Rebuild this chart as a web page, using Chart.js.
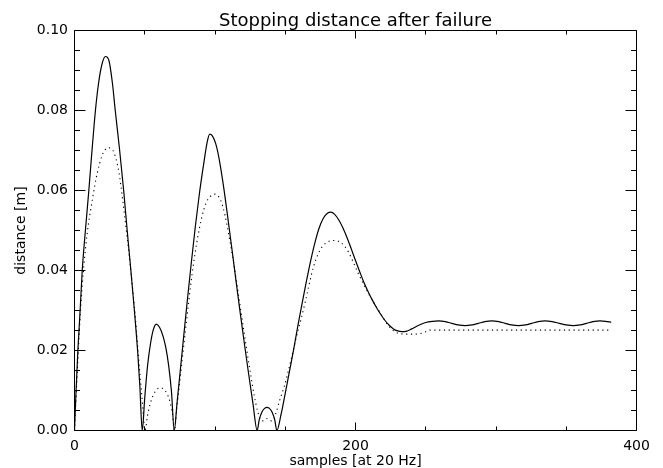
<!DOCTYPE html>
<html>
<head>
<meta charset="utf-8">
<script src="https://cdn.jsdelivr.net/npm/chart.js@4"></script>
<style>
  html, body { margin: 0; padding: 0; background: #fff; }
  #wrap { width: 663px; height: 468px; }
</style>
</head>
<body>
<div id="wrap"><canvas id="c" width="663" height="468"></canvas></div>
<script>
// ---- data ----
const solidX = [0, 1, 2.4, 4, 5.5, 8, 10.2, 12, 14.9, 17, 19.5, 22, 24.5, 27, 29, 32, 35, 37.5, 40, 42.5, 45, 46.5, 48.2,
  50, 52, 54, 56, 58.3, 60.5, 63, 65, 67, 69, 71,
  73, 75, 77, 80, 83, 86, 89, 92, 94.5, 96.2, 98, 100.5, 103, 106, 109, 112, 115, 118, 121, 124, 127, 130,
  131.5, 133.5, 135.5, 137, 138.5, 140.5, 142.5, 144,
  147, 150, 153, 156, 159, 162, 165, 168, 171, 174, 177, 180, 182.5, 185, 188, 191, 194, 197, 200, 203, 206, 209, 212, 215, 218, 221, 224, 227, 230, 233, 236, 240, 245, 250, 255,
  259, 264, 268.5, 273, 278, 283, 287.5, 292, 297, 302, 306.5, 311, 316, 321, 325.5, 330, 335, 340, 345, 350, 355, 360, 364.5, 369, 374, 378, 382];
const solidY = [0, 0.009, 0.020, 0.030, 0.040, 0.051, 0.060, 0.068, 0.080, 0.0865, 0.0915, 0.0935, 0.0925, 0.0868, 0.080, 0.0705, 0.060, 0.050, 0.0405, 0.0305, 0.0195, 0.0112, 0,
  0.0082, 0.0162, 0.0215, 0.0251, 0.0266, 0.0258, 0.0236, 0.0207, 0.0163, 0.0098, 0,
  0.007, 0.014, 0.021, 0.0315, 0.0415, 0.051, 0.0595, 0.0668, 0.0722, 0.0741, 0.0737, 0.0717, 0.0678, 0.0612, 0.0535, 0.0455, 0.0373, 0.0293, 0.0215, 0.0140, 0.0068, 0,
  0.0027, 0.0047, 0.0056, 0.0058, 0.0056, 0.0047, 0.0027, 0,
  0.004, 0.0093, 0.0148, 0.0203, 0.0262, 0.0318, 0.0372, 0.0423, 0.0468, 0.0505, 0.0530, 0.0543, 0.0546, 0.0541, 0.0527, 0.0507, 0.0482, 0.0454, 0.0425, 0.0397, 0.0370, 0.0347, 0.0326, 0.0307, 0.0290, 0.0275, 0.0263, 0.0254, 0.0249, 0.0247, 0.0248, 0.0254, 0.0263, 0.0270, 0.0273,
  0.0274, 0.0272, 0.0268, 0.0264, 0.0262, 0.0264, 0.0268, 0.0272, 0.0274, 0.0272, 0.0268, 0.0264, 0.0262, 0.0264, 0.0268, 0.0272, 0.0274, 0.0272, 0.0268, 0.0264, 0.0262, 0.0264, 0.0268, 0.0272, 0.0274, 0.0273, 0.0271];

const dottedX = [0, 1, 2.4, 4.3, 6.6, 9, 12.6, 16.1, 19.7, 22, 24.4, 26.5, 28, 31.5, 34, 36.5, 39, 41.5, 43.5, 45.5, 48, 50.2,
  52, 54, 56, 58.5, 61, 63.5, 66, 68, 69.8, 71,
  73, 75, 77, 80, 83, 86, 89, 92, 95, 98, 100, 102, 104, 107, 110, 113, 116, 119, 122, 125, 128, 130.5, 133, 135, 137, 139, 141, 143.5, 146,
  149, 152, 155, 158, 161, 164, 167, 170, 173, 176, 179, 182, 186, 189, 192, 195, 198, 201, 204, 207, 210, 213, 216, 219, 222, 225, 228, 232, 237, 242, 247, 250, 253, 382];
const dottedY = [0, 0.0075, 0.0176, 0.0301, 0.0409, 0.0492, 0.0575, 0.0642, 0.0688, 0.0703, 0.0707, 0.0703, 0.0696, 0.0648, 0.0585, 0.0512, 0.0435, 0.035, 0.0275, 0.0185, 0.0085, 0,
  0.0038, 0.0068, 0.0088, 0.0102, 0.0107, 0.0103, 0.0091, 0.0071, 0.0040, 0,
  0.0062, 0.0125, 0.0188, 0.0282, 0.0372, 0.0447, 0.0507, 0.0552, 0.0578, 0.0589, 0.0591, 0.0587, 0.0576, 0.0540, 0.0486, 0.0425, 0.0356, 0.0285, 0.0215, 0.0148, 0.0086, 0.0046, 0.0024, 0.0025, 0.0030, 0.0025, 0.0024, 0.0045, 0.0075,
  0.0107, 0.0146, 0.019, 0.0235, 0.0275, 0.0318, 0.0365, 0.0408, 0.0438, 0.0458, 0.0469, 0.0474, 0.0475, 0.0471, 0.0462, 0.0446, 0.0424, 0.0400, 0.0378, 0.0357, 0.0338, 0.0320, 0.0303, 0.0286, 0.0269, 0.0256, 0.0247, 0.0242, 0.0241, 0.0241, 0.0243, 0.0247, 0.0251, 0.0251];

const xMajorTicks = [0, 200, 400];
const xMinorTicks = [50, 100, 150, 250, 300, 350];
const yMajorTicks = [0, 0.02, 0.04, 0.06, 0.08, 0.10];
const yMinorTicks = [0.005, 0.01, 0.015, 0.025, 0.03, 0.035, 0.045, 0.05, 0.055, 0.065, 0.07, 0.075, 0.085, 0.09, 0.095];

const titleText = 'Stopping distance after failure';
const xTitle = 'samples [at 20 Hz]';
const yTitle = 'distance [m]';

// ---- chart ----
Chart.defaults.font.family = "'DejaVu Sans', sans-serif";
Chart.defaults.color = '#000';

const toPoints = (xs, ys) => xs.map((v, i) => ({ x: v, y: ys[i] }));

const frameTicks = {
  id: 'frameTicks',
  afterDatasetsDraw(chart) {
    const { ctx, chartArea: a, scales: { x, y } } = chart;
    ctx.save();
    ctx.strokeStyle = '#000';
    ctx.lineWidth = 1;
    ctx.beginPath();
    ctx.rect(a.left, a.top, a.right - a.left, a.bottom - a.top);
    const seg = (x1, y1, x2, y2) => { ctx.moveTo(x1, y1); ctx.lineTo(x2, y2); };
    const xt = (v, len) => {
      const px = Math.floor(x.getPixelForValue(v)) + 0.5;
      seg(px, a.bottom, px, a.bottom - len);
      seg(px, a.top, px, a.top + len);
    };
    const yt = (v, len) => {
      const py = Math.floor(y.getPixelForValue(v)) + 0.5;
      seg(a.left, py, a.left + len, py);
      seg(a.right, py, a.right - len, py);
    };
    xMajorTicks.forEach(v => xt(v, 8));
    xMinorTicks.forEach(v => xt(v, 4));
    yMajorTicks.forEach(v => yt(v, 11));
    yMinorTicks.forEach(v => yt(v, 5.5));
    ctx.stroke();
    ctx.restore();
  }
};

new Chart(document.getElementById('c'), {
  type: 'line',
  data: {
    datasets: [
      {
        data: toPoints(solidX, solidY),
        borderColor: '#000',
        borderWidth: 1.2,
        pointRadius: 0,
        cubicInterpolationMode: 'monotone',
        fill: false
      },
      {
        data: toPoints(dottedX, dottedY),
        borderColor: '#000',
        borderWidth: 1.1,
        borderDash: [1.2, 3.6],
        pointRadius: 0,
        cubicInterpolationMode: 'monotone',
        fill: false
      }
    ]
  },
  plugins: [frameTicks],
  options: {
    responsive: false,
    animation: false,
    events: [],
    layout: { padding: { left: 0, right: 26.5, top: 0, bottom: 0 } },
    plugins: {
      legend: { display: false },
      tooltip: { enabled: false },
      title: {
        display: true,
        fullSize: false,
        text: titleText,
        color: '#000',
        font: { size: 18, weight: 'normal', lineHeight: 1 },
        padding: { top: 12.5, bottom: 0 }
      }
    },
    scales: {
      x: {
        type: 'linear',
        min: 0,
        max: 400,
        afterBuildTicks: s => { s.ticks = xMajorTicks.map(v => ({ value: v })); },
        afterFit: s => { s.height = 37.5; },
        grid: { display: false, drawTicks: false },
        border: { display: false },
        ticks: { padding: 7, maxRotation: 0, autoSkip: false, color: '#000', font: { size: 14 }, callback: v => String(v) },
        title: { display: true, text: xTitle, color: '#000', font: { size: 14, lineHeight: 1 }, padding: { top: 0, bottom: 0 } }
      },
      y: {
        type: 'linear',
        min: 0,
        max: 0.1,
        afterBuildTicks: s => { s.ticks = yMajorTicks.map(v => ({ value: v })); },
        afterFit: s => { s.width = 74.5; },
        grid: { display: false, drawTicks: false },
        border: { display: false },
        ticks: { padding: 6.5, color: '#000', font: { size: 14 }, callback: v => Number(v).toFixed(2) },
        title: { display: true, text: yTitle, color: '#000', font: { size: 14, lineHeight: 1.2 }, padding: { top: 12.6, bottom: 0 } }
      }
    }
  }
});
</script>
</body>
</html>
